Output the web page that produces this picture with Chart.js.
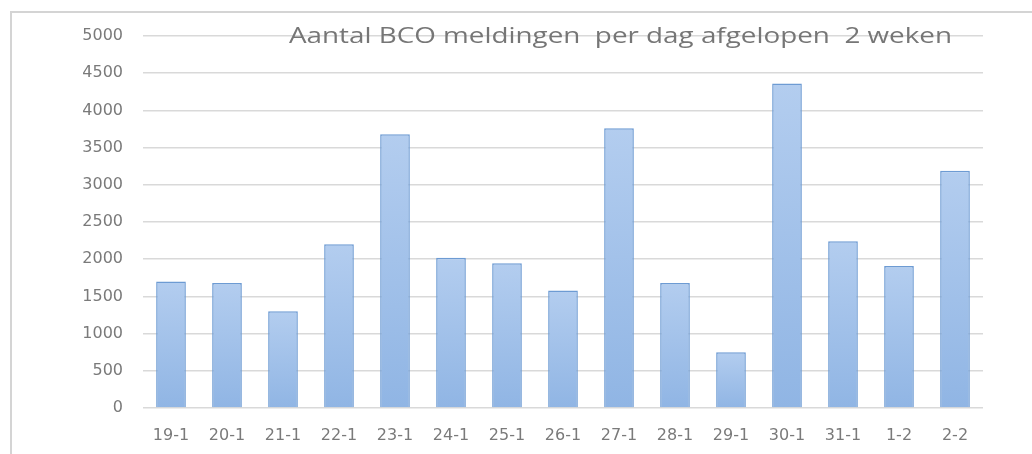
<!DOCTYPE html>
<html>
<head>
<meta charset="utf-8">
<script src="https://cdn.jsdelivr.net/npm/chart.js@4.4.1/dist/chart.umd.min.js"></script>
<style>
  html, body { margin: 0; padding: 0; background: #ffffff; }
  canvas { display: block; }
</style>
</head>
<body>
<canvas id="c" width="1032" height="454"></canvas>
<script>
const categories = ["19-1","20-1","21-1","22-1","23-1","24-1","25-1","26-1","27-1","28-1","29-1","30-1","31-1","1-2","2-2"];
const meldingen = [1700, 1680, 1300, 2200, 3680, 2020, 1945, 1580, 3760, 1680, 750, 4360, 2240, 1910, 3190];
const yTicks = [0, 500, 1000, 1500, 2000, 2500, 3000, 3500, 4000, 4500, 5000];
const titleText = "Aantal BCO meldingen  per dag afgelopen  2 weken";

const framePlugin = {
  id: 'frame',
  beforeDraw(chart) {
    const ctx = chart.ctx;
    const w = chart.width, h = chart.height;
    ctx.save();
    ctx.fillStyle = '#ffffff';
    ctx.fillRect(0, 0, w, h);
    ctx.fillStyle = '#d4d4d4';
    ctx.fillRect(10, 11, 2, h - 11);
    ctx.fillRect(10, 11, w - 10, 2);
    ctx.restore();
  }
};

const titlePlugin = {
  id: 'insideTitle',
  afterDraw(chart) {
    const ctx = chart.ctx;
    ctx.save();
    ctx.font = '22px "Open Sans"';
    ctx.fillStyle = '#767676';
    ctx.textBaseline = 'alphabetic';
    const w = ctx.measureText(titleText).width;
    const targetW = 663;
    ctx.translate(289, 43);
    ctx.scale(targetW / w, 1);
    ctx.fillText(titleText, 0, 0);
    ctx.restore();
  }
};

function barGradient(context) {
  const chart = context.chart;
  const area = chart.chartArea;
  if (!area || context.parsed === undefined) return '#a3c2ea';
  const yScale = chart.scales.y;
  const top = yScale.getPixelForValue(context.parsed.y);
  const bottom = yScale.getPixelForValue(0);
  const g = chart.ctx.createLinearGradient(0, top, 0, bottom);
  g.addColorStop(0, '#b3cdef');
  g.addColorStop(1, '#90b5e4');
  return g;
}

new Chart(document.getElementById('c'), {
  type: 'bar',
  data: {
    labels: categories,
    datasets: [{
      data: meldingen,
      backgroundColor: barGradient,
      borderColor: '#6d9bd3',
      borderWidth: 1.5,
      categoryPercentage: 1.0,
      barPercentage: 0.53
    }]
  },
  options: {
    responsive: false,
    animation: false,
    devicePixelRatio: 1,
    layout: { padding: { top: 36, right: 49, bottom: 0, left: 0 } },
    plugins: {
      legend: { display: false },
      tooltip: { enabled: false },
      title: { display: false }
    },
    scales: {
      x: {
        grid: { display: false, drawTicks: false },
        border: { display: false },
        ticks: {
          color: '#7a7a7a',
          font: { family: '"DejaVu Sans"', size: 16 },
          padding: 18,
          maxRotation: 0,
          autoSkip: false
        },
        afterFit(scale) { scale.height = 46; }
      },
      y: {
        min: 0,
        max: 5000,
        afterBuildTicks(scale) { scale.ticks = yTicks.map(v => ({ value: v })); },
        grid: { color: '#d9d9d9', lineWidth: 1.5, drawTicks: false },
        border: { display: false },
        ticks: {
          color: '#7a7a7a',
          font: { family: '"DejaVu Sans"', size: 16 },
          padding: 20,
          callback: (v) => String(v)
        },
        afterFit(scale) { scale.width = 143; }
      }
    }
  },
  plugins: [framePlugin, titlePlugin]
});
</script>
</body>
</html>
